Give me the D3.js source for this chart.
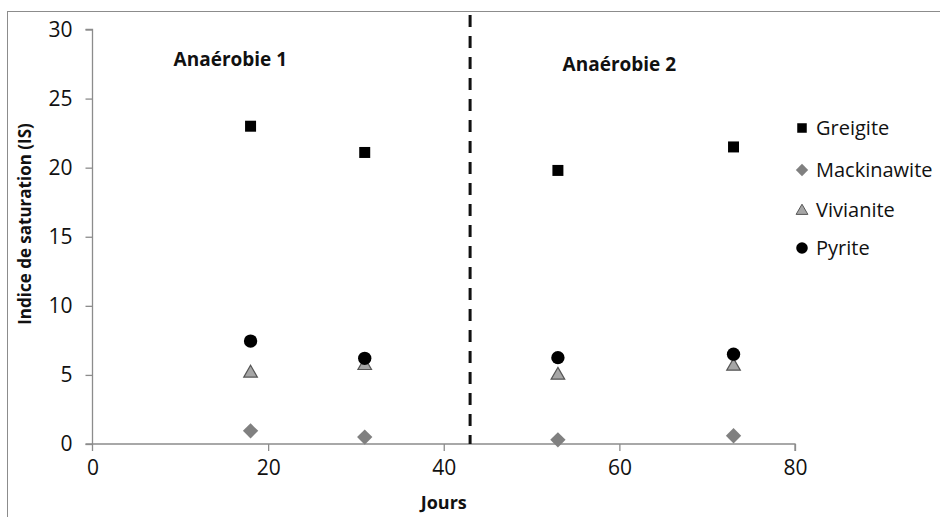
<!DOCTYPE html>
<html><head><meta charset="utf-8">
<script src="https://cdn.jsdelivr.net/npm/d3@7"></script>
<style>body{margin:0;background:#fff}svg{display:block}text{font-family:"Open Sans",sans-serif}</style>
</head><body>
<script>
const days = [18, 31, 53, 73];
const greigite = [23.0, 21.1, 19.8, 21.5];
const mackinawite = [0.95, 0.5, 0.3, 0.6];
const vivianite = [5.2, 5.75, 5.05, 5.7];
const pyrite = [7.45, 6.2, 6.25, 6.5];
const xTicks = [0, 20, 40, 60, 80];
const yTicks = [0, 5, 10, 15, 20, 25, 30];
const dividerDay = 43;
const seriesNames = ["Greigite", "Mackinawite", "Vivianite", "Pyrite"];
const phaseLabels = [{text: "Anaérobie 1", day: 15.7}, {text: "Anaérobie 2", day: 60}];

const W = 940, H = 517;
const svg = d3.select("body").append("svg").attr("width", W).attr("height", H);
svg.append("rect").attr("x", 7.5).attr("y", 11.5).attr("width", W).attr("height", H)
  .attr("fill", "none").attr("stroke", "#8c8c8c").attr("stroke-width", 1);

const x = d3.scaleLinear().domain([0, 80]).range([92.5, 795]);
const y = d3.scaleLinear().domain([0, 30]).range([444, 29.5]);

const axisColor = "#8c8c8c";
const gx = svg.append("g").attr("transform", `translate(0,${y(0)})`)
  .call(d3.axisBottom(x).tickValues(xTicks).tickSize(7).tickPadding(9).tickFormat(d3.format("d")));
const gy = svg.append("g").attr("transform", `translate(${x(0)},0)`)
  .call(d3.axisLeft(y).tickValues(yTicks).tickSize(7).tickPadding(13).tickFormat(d3.format("d")));
[gx, gy].forEach(g => {
  g.select(".domain").attr("stroke", axisColor).attr("stroke-width", 1.3);
  g.selectAll(".tick line").attr("stroke", axisColor).attr("stroke-width", 1.3);
  g.selectAll(".tick text").attr("fill", "#111").style("font-size", "21px");
});
gx.select(".domain").attr("d", `M${x(0)},7V0H${x(80)}V7`);
gx.select(".tick line").remove();
gy.select(".domain").attr("d", `M-7,${y(30)}H0V${y(0)}H-7`);

// divider
svg.append("line").attr("x1", x(dividerDay)).attr("x2", x(dividerDay))
  .attr("y1", 15).attr("y2", y(0))
  .attr("stroke", "#111").attr("stroke-width", 3).attr("stroke-dasharray", "12,9");

// phase labels
svg.selectAll(".phase").data(phaseLabels).enter().append("text")
  .attr("x", d => x(d.day)).attr("y", (d, i) => i === 0 ? 66 : 71)
  .attr("text-anchor", "middle").style("font-size", "19px").style("font-weight", "bold")
  .attr("fill", "#111").text(d => d.text);

// axis titles
svg.append("text").attr("x", x(40)).attr("y", 509).attr("text-anchor", "middle")
  .style("font-size", "18px").style("font-weight", "bold").attr("fill", "#111").text("Jours");
svg.append("text").attr("transform", `translate(31,224) rotate(-90)`).attr("text-anchor", "middle")
  .style("font-size", "17px").style("font-weight", "bold").attr("fill", "#111").text("Indice de saturation (IS)");

const styles = [
  {type: d3.symbolSquare, size: 121, fill: "#000", stroke: "none"},
  {type: d3.symbolDiamond2, size: 150, fill: "#808080", stroke: "none"},
  {type: d3.symbolTriangle, size: 80, fill: "#a6a6a6", stroke: "#555", ty: 1},
  {type: d3.symbolCircle, size: 140, fill: "#000", stroke: "none"}
];
const allSeries = [greigite, mackinawite, vivianite, pyrite];
allSeries.forEach((vals, si) => {
  const st = styles[si];
  svg.append("g").selectAll("path").data(days.map((d, i) => [d, vals[i]])).enter()
    .append("path")
    .attr("d", d3.symbol().type(st.type).size(st.size))
    .attr("transform", d => `translate(${x(d[0])},${y(d[1]) + (st.ty || 0)})`)
    .attr("fill", st.fill).attr("stroke", st.stroke).attr("stroke-width", 1.2);
});

// legend
const legendY = [128, 170, 210, 248];
seriesNames.forEach((name, i) => {
  const st = styles[i];
  svg.append("path").attr("d", d3.symbol().type(st.type).size(st.size * (i === 1 ? 0.65 : 0.75)))
    .attr("transform", `translate(802,${legendY[i] + (st.ty || 0)})`)
    .attr("fill", st.fill).attr("stroke", st.stroke).attr("stroke-width", 1);
  svg.append("text").attr("x", 816).attr("y", legendY[i] + 7)
    .style("font-size", "20px").attr("fill", "#111").text(name);
});
</script>
</body></html>
